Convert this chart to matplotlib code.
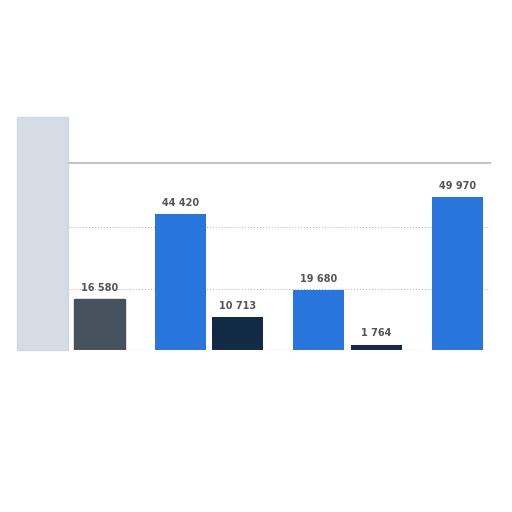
import numpy as np
import matplotlib.pyplot as plt

categories = ['A', 'B', 'C', 'D']
series_blue = [76000, 44420, 19680, 49970]
series_dark = [16580, 10713, 1764, 0]
labels_blue = ['', '44 420', '19 680', '49 970']
labels_dark = ['16 580', '10 713', '1 764', '']

fig = plt.figure(figsize=(5.12, 5.12), dpi=100)
ax = fig.add_axes([68/512, 1-350/512, (490-68)/512, (350-163)/512])

x = np.arange(len(categories))
w = 0.37
off = 0.207
blue_c = '#2876dd'
dark_c = '#122a45'

bb = ax.bar(x - off, series_blue, w, color=blue_c, zorder=3)
bd = ax.bar(x + off, series_dark, w, color=dark_c, zorder=3)

# first group is blurred / out of the plot area in the reference
bb[0].set_color('#c9d1db')
bb[0].set_alpha(0.75)
bb[0].set_clip_on(False)
bd[0].set_color('#46535f')

for i in range(len(categories)):
    if labels_blue[i]:
        ax.text(x[i] - off, series_blue[i] + 2000, labels_blue[i], ha='center', va='bottom',
                fontsize=7, fontweight='bold', color='#555555', zorder=4)
    if labels_dark[i]:
        ax.text(x[i] + off, series_dark[i] + 2000, labels_dark[i], ha='center', va='bottom',
                fontsize=7, fontweight='bold', color='#555555', zorder=4)

ax.set_xlim(-0.02, 3.03)
ax.set_ylim(0, 61000)
ax.set_yticks([20000, 40000])
ax.grid(axis='y', linestyle=':', color='#bbbbbb', linewidth=0.8, zorder=0)
ax.tick_params(left=False, bottom=False, labelleft=False, labelbottom=False)
for s in ['left', 'right', 'bottom']:
    ax.spines[s].set_visible(False)
ax.spines['top'].set_color('#c4c4c4')
ax.spines['top'].set_linewidth(1.5)
ax.axhline(0, color='#999999', linewidth=0.8, zorder=5)

plt.savefig('out.png', dpi=100)
